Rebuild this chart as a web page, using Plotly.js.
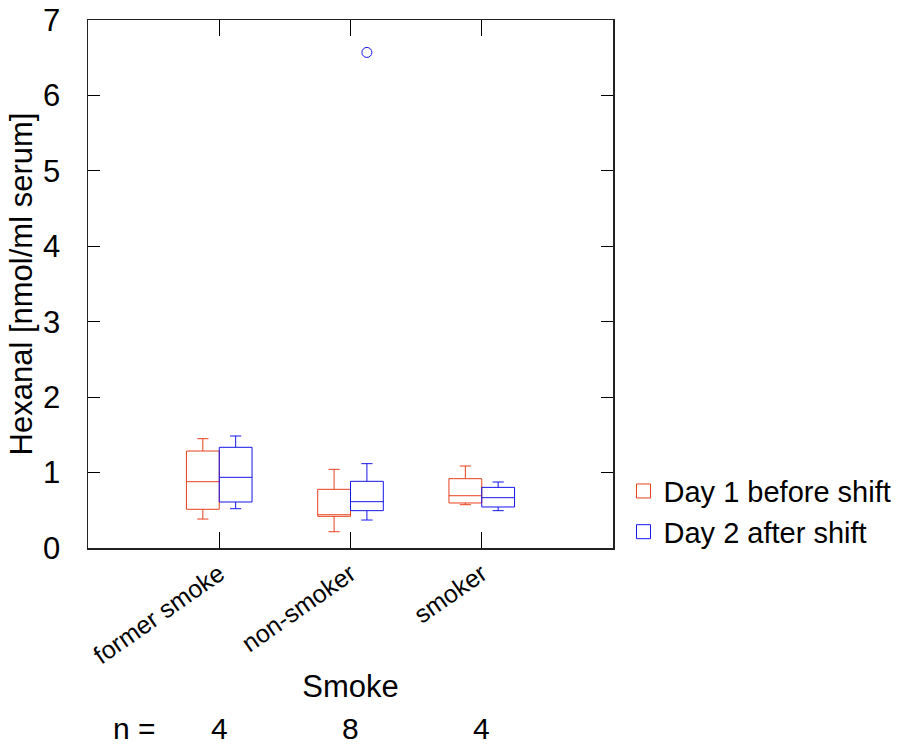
<!DOCTYPE html>
<html>
<head>
<meta charset="utf-8">
<script src="https://cdn.plot.ly/plotly-3.0.1.min.js"></script>
<style>html,body{margin:0;padding:0;background:#fff;}#chart{width:914px;height:745px;}</style>
</head>
<body>
<div id="chart"></div>
<script>
// Categories and sample sizes
const categories = ["former smoke", "non-smoker", "smoker"];
const nCounts = [4, 8, 4];
const positions = [1, 2, 3];

// Day 1 before shift (precomputed box statistics)
const day1Lower  = [0.384, 0.216, 0.574];
const day1Q1     = [0.513, 0.420, 0.597];
const day1Median = [0.879, 0.441, 0.693];
const day1Q3     = [1.286, 0.778, 0.919];
const day1Upper  = [1.449, 1.043, 1.087];

// Day 2 after shift
const day2Lower  = [0.521, 0.371, 0.495];
const day2Q1     = [0.610, 0.495, 0.544];
const day2Median = [0.937, 0.614, 0.667];
const day2Q3     = [1.335, 0.884, 0.804];
const day2Upper  = [1.485, 1.118, 0.875];

// Outliers
const day2OutlierPos = [2];
const day2OutlierVal = [6.57];

const yTicks = [0, 1, 2, 3, 4, 5, 6, 7];
const seriesNames = ['Day 1 before shift', 'Day 2 after shift'];

const RED = '#E8401C';
const BLUE = '#1515EE';
const FONT = '"Liberation Sans", Arial, sans-serif';
const OFF = 0.125;

function boxTrace(name, color, lo, q1, med, q3, up) {
  return {
    type: 'box', name: name, x: positions, showlegend: false,
    lowerfence: lo, q1: q1, median: med, q3: q3, upperfence: up,
    line: {color: color, width: 1}, fillcolor: 'rgba(0,0,0,0)',
    whiskerwidth: 0, boxpoints: false, hoverinfo: 'y'
  };
}
function capTrace(color, shift, vals) {
  return {
    type: 'scatter', mode: 'markers', showlegend: false, hoverinfo: 'skip',
    x: positions.map(p => p + shift), y: vals,
    marker: {symbol: 'line-ew-open', size: 8, color: color, line: {color: color, width: 1}}
  };
}
function legendTrace(name, color) {
  return {
    type: 'scatter', mode: 'markers', name: name, x: [null], y: [null],
    marker: {symbol: 'square-open', size: 14, color: color, line: {color: color, width: 1}}
  };
}

const data = [
  boxTrace(seriesNames[0], RED, day1Lower, day1Q1, day1Median, day1Q3, day1Upper),
  boxTrace(seriesNames[1], BLUE, day2Lower, day2Q1, day2Median, day2Q3, day2Upper),
  capTrace(RED, -OFF, day1Lower), capTrace(RED, -OFF, day1Upper),
  capTrace(BLUE, OFF, day2Lower), capTrace(BLUE, OFF, day2Upper),
  {
    type: 'scatter', mode: 'markers', showlegend: false,
    x: day2OutlierPos.map(p => p + OFF), y: day2OutlierVal,
    marker: {symbol: 'circle-open', size: 10, color: BLUE, line: {width: 1, color: BLUE}}
  },
  legendTrace(seriesNames[0], RED),
  legendTrace(seriesNames[1], BLUE)
];

const annotations = [{
  xref: 'paper', yref: 'paper', x: 0.088, y: -0.341, text: 'n =',
  showarrow: false, xanchor: 'center', yanchor: 'middle',
  font: {family: FONT, size: 30, color: '#000'}
}].concat(positions.map((p, i) => ({
  xref: 'x', yref: 'paper', x: p, y: -0.341, text: String(nCounts[i]),
  showarrow: false, xanchor: 'center', yanchor: 'middle',
  font: {family: FONT, size: 30, color: '#000'}
})));

const layout = {
  width: 914, height: 745,
  margin: {l: 88, r: 301, t: 20, b: 197},
  paper_bgcolor: '#fff', plot_bgcolor: '#fff',
  font: {family: FONT, color: '#000'},
  boxmode: 'group', boxgap: 0.5, boxgroupgap: 0,
  showlegend: true,
  legend: {
    x: 1.02, xanchor: 'left', y: 0.156, yanchor: 'top',
    font: {family: FONT, size: 29, color: '#000'},
    bgcolor: 'rgba(0,0,0,0)', itemwidth: 30, tracegroupgap: 0
  },
  xaxis: {
    range: [0, 4], tickmode: 'array', tickvals: positions, ticktext: categories,
    tickangle: -35, tickfont: {family: FONT, size: 25, color: '#000'},
    ticks: 'inside', ticklen: 16, tickcolor: '#000', tickwidth: 1,
    showline: true, linecolor: '#222', linewidth: 1.5, mirror: 'ticks',
    showgrid: false, zeroline: false,
    title: {text: 'Smoke', font: {family: FONT, size: 31, color: '#000'}, standoff: 7}
  },
  yaxis: {
    range: [0, 7], tickmode: 'array', tickvals: yTicks,
    tickfont: {family: FONT, size: 31, color: '#000'},
    ticks: 'inside', ticklen: 12, tickcolor: '#000', tickwidth: 1,
    ticklabelstandoff: 20,
    showline: true, linecolor: '#222', linewidth: 1.5, mirror: 'ticks',
    showgrid: false, zeroline: false,
    title: {text: 'Hexanal [nmol/ml serum]', font: {family: FONT, size: 31, color: '#000'}, standoff: 1}
  },
  annotations: annotations
};

Plotly.newPlot('chart', data, layout, {staticPlot: true, displayModeBar: false});
</script>
</body>
</html>
